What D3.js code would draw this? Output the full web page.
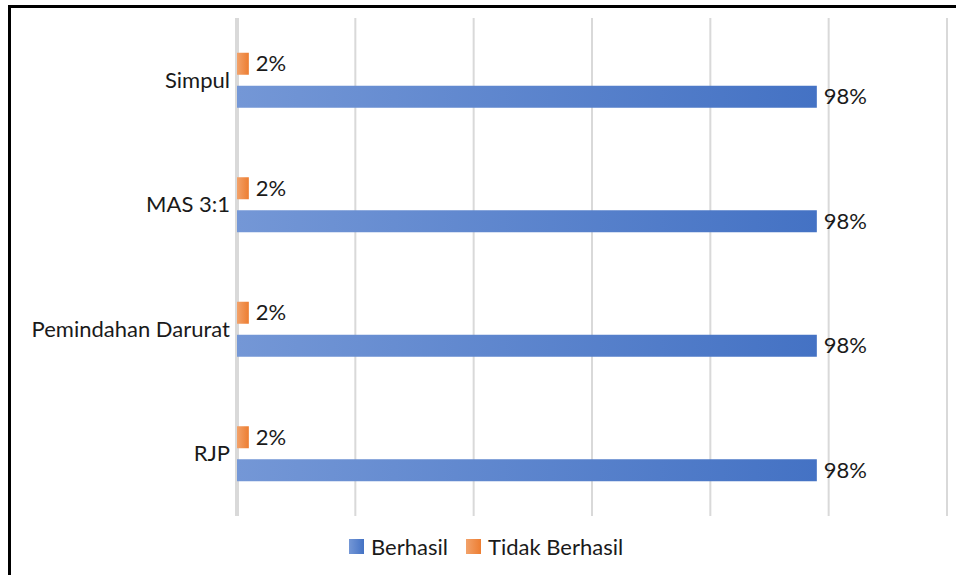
<!DOCTYPE html>
<html>
<head>
<meta charset="utf-8">
<script src="https://cdn.jsdelivr.net/npm/d3@7"></script>
<style>
  body { margin: 0; background: #fff; }
  svg text { font-family: Lato, "Open Sans", sans-serif; fill: #1a1a1a; }
</style>
</head>
<body>
<script>
// chart size
const width = 956;
const height = 575;

// data
const categories = ["Simpul", "MAS 3:1", "Pemindahan Darurat", "RJP"];
const berhasil = [0.98, 0.98, 0.98, 0.98];
const tidakBerhasil = [0.02, 0.02, 0.02, 0.02];
const seriesNames = ["Tidak Berhasil", "Berhasil"];
const xTicks = [0, 0.2, 0.4, 0.6, 0.8, 1.0, 1.2];

const plot = { left: 237, right: 947, top: 18, bottom: 516 };
const fontSize = "22px";

const svg = d3.select("body")
  .append("svg")
  .attr("width", width)
  .attr("height", height);

// gradients like the office fill
const defs = svg.append("defs");
const gradients = [
  { id: "gBlue", from: "#7497d6", to: "#4472c4" },
  { id: "gOrange", from: "#f2a26a", to: "#ed7d31" }
];
gradients.forEach(g => {
  const lg = defs.append("linearGradient").attr("id", g.id)
    .attr("x1", "0%").attr("x2", "100%").attr("y1", "0%").attr("y2", "0%");
  lg.append("stop").attr("offset", "0%").attr("stop-color", g.from);
  lg.append("stop").attr("offset", "100%").attr("stop-color", g.to);
});

// outer frame (right and bottom edges fall outside the picture)
svg.append("rect")
  .attr("x", 9.5).attr("y", 6.5)
  .attr("width", 960).attr("height", 580)
  .attr("fill", "none")
  .attr("stroke", "#000")
  .attr("stroke-width", 3);

const x = d3.scaleLinear().domain([0, 1.2]).range([plot.left, plot.right]);
const y = d3.scaleBand().domain(categories).range([plot.top, plot.bottom]).padding(0);
const inner = d3.scaleBand().domain(seriesNames)
  .range([34.75, y.bandwidth() - 34.75])
  .paddingInner(1 / 3).paddingOuter(0);

// gridlines
svg.append("g")
  .selectAll("line")
  .data(xTicks)
  .enter()
  .append("line")
  .attr("x1", d => x(d)).attr("x2", d => x(d))
  .attr("y1", plot.top).attr("y2", plot.bottom)
  .attr("stroke", "#d9d9d9")
  .attr("stroke-width", d => d === 0 ? 4 : 2);

const rows = categories.map((c, i) => ({
  cat: c,
  vals: [
    { name: "Tidak Berhasil", v: tidakBerhasil[i], fill: "url(#gOrange)" },
    { name: "Berhasil", v: berhasil[i], fill: "url(#gBlue)" }
  ]
}));

const groups = svg.append("g")
  .selectAll("g")
  .data(rows)
  .enter()
  .append("g")
  .attr("transform", d => `translate(0,${y(d.cat)})`);

groups.selectAll("rect")
  .data(d => d.vals)
  .enter()
  .append("rect")
  .attr("x", x(0))
  .attr("y", d => inner(d.name))
  .attr("width", d => x(d.v) - x(0))
  .attr("height", inner.bandwidth())
  .attr("fill", d => d.fill);

groups.selectAll("text.val")
  .data(d => d.vals)
  .enter()
  .append("text")
  .attr("class", "val")
  .attr("x", d => x(d.v) + 7)
  .attr("y", d => inner(d.name) + inner.bandwidth() / 2)
  .attr("dy", "0.35em")
  .style("font-size", fontSize)
  .text(d => d3.format(".0%")(d.v));

// category labels
groups.append("text")
  .attr("x", plot.left - 7)
  .attr("y", y.bandwidth() / 2)
  .attr("dy", "0.35em")
  .attr("text-anchor", "end")
  .style("font-size", fontSize)
  .text(d => d.cat);

// legend
const legendItems = [
  { name: "Berhasil", fill: "url(#gBlue)", x: 349 },
  { name: "Tidak Berhasil", fill: "url(#gOrange)", x: 466 }
];
const legend = svg.append("g");
legendItems.forEach(it => {
  legend.append("rect")
    .attr("x", it.x).attr("y", 539)
    .attr("width", 15).attr("height", 15)
    .attr("fill", it.fill);
  legend.append("text")
    .attr("x", it.x + 22).attr("y", 547)
    .attr("dy", "0.35em")
    .style("font-size", fontSize)
    .text(it.name);
});
</script>
</body>
</html>
